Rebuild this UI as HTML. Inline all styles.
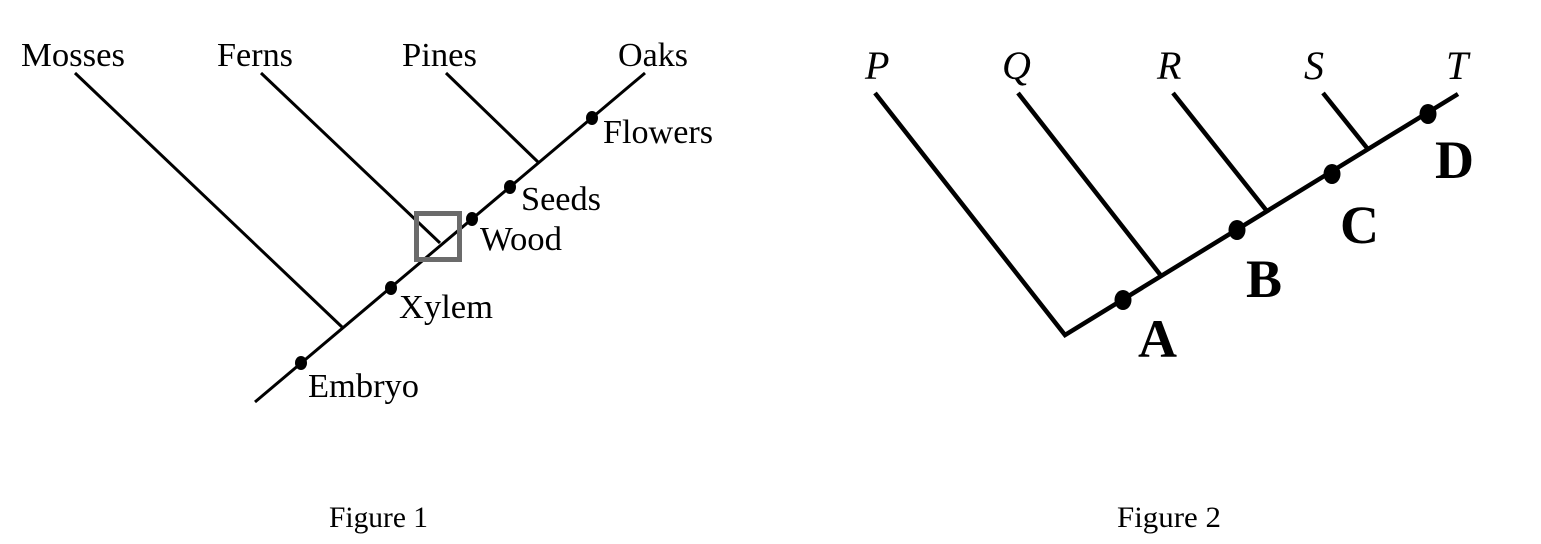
<!DOCTYPE html>
<html>
<head>
<meta charset="utf-8">
<style>
  html, body { margin: 0; padding: 0; background: #fff; }
  body { width: 1541px; height: 544px; overflow: hidden; }
  svg { display: block; }
  text { font-family: "Liberation Serif", "Times New Roman", serif; fill: #000; }
</style>
</head>
<body>
<svg width="1541" height="544" viewBox="0 0 1541 544" xmlns="http://www.w3.org/2000/svg">
  <rect width="1541" height="544" fill="#fff"/>

  <!-- Figure 1 -->
  <g stroke="#000" stroke-width="3" fill="none" stroke-linecap="butt">
    <line x1="255" y1="402" x2="645" y2="73"/>
    <line x1="75" y1="73" x2="342" y2="327"/>
    <line x1="261" y1="73" x2="440" y2="243"/>
    <line x1="446" y1="73" x2="538" y2="162"/>
  </g>
  <rect x="416.5" y="213.5" width="43" height="46" fill="none" stroke="#6b6b6b" stroke-width="5"/>
  <g fill="#000">
    <ellipse cx="301" cy="363" rx="6" ry="7"/>
    <ellipse cx="391" cy="288" rx="6" ry="7"/>
    <ellipse cx="472" cy="219" rx="6" ry="7"/>
    <ellipse cx="510" cy="187" rx="6" ry="7"/>
    <ellipse cx="592" cy="118" rx="6" ry="7"/>
  </g>
  <g font-size="34">
    <text x="21" y="66" textLength="104" lengthAdjust="spacingAndGlyphs">Mosses</text>
    <text x="217" y="66" textLength="76" lengthAdjust="spacingAndGlyphs">Ferns</text>
    <text x="402" y="66" textLength="75" lengthAdjust="spacingAndGlyphs">Pines</text>
    <text x="618" y="66" textLength="70" lengthAdjust="spacingAndGlyphs">Oaks</text>
    <text x="603" y="143" textLength="110" lengthAdjust="spacingAndGlyphs">Flowers</text>
    <text x="521" y="210" textLength="80" lengthAdjust="spacingAndGlyphs">Seeds</text>
    <text x="480" y="250" textLength="82" lengthAdjust="spacingAndGlyphs">Wood</text>
    <text x="399" y="318" textLength="94" lengthAdjust="spacingAndGlyphs">Xylem</text>
    <text x="308" y="397" textLength="111" lengthAdjust="spacingAndGlyphs">Embryo</text>
  </g>
  <text x="329" y="527" font-size="30" textLength="99" lengthAdjust="spacingAndGlyphs">Figure 1</text>

  <!-- Figure 2 -->
  <g stroke="#000" stroke-width="4.5" fill="none" stroke-linecap="butt" stroke-linejoin="miter">
    <polyline points="875,93 1065,335 1458,94"/>
    <line x1="1018" y1="93" x2="1162" y2="277"/>
    <line x1="1173" y1="93" x2="1266" y2="210"/>
    <line x1="1323" y1="93" x2="1367" y2="148"/>
  </g>
  <g fill="#000">
    <ellipse cx="1123" cy="300" rx="8.5" ry="10"/>
    <ellipse cx="1237" cy="230" rx="8.5" ry="10"/>
    <ellipse cx="1332" cy="174" rx="8.5" ry="10"/>
    <ellipse cx="1428" cy="114" rx="8.5" ry="10"/>
  </g>
  <g font-size="40" font-style="italic">
    <text x="865" y="79">P</text>
    <text x="1002" y="79">Q</text>
    <text x="1157" y="79">R</text>
    <text x="1304" y="79">S</text>
    <text x="1446" y="79">T</text>
  </g>
  <g font-size="54" font-weight="bold">
    <text x="1138" y="357">A</text>
    <text x="1246" y="297">B</text>
    <text x="1340" y="243">C</text>
    <text x="1435" y="178">D</text>
  </g>
  <text x="1117" y="527" font-size="30" textLength="104" lengthAdjust="spacingAndGlyphs">Figure 2</text>
</svg>
</body>
</html>
